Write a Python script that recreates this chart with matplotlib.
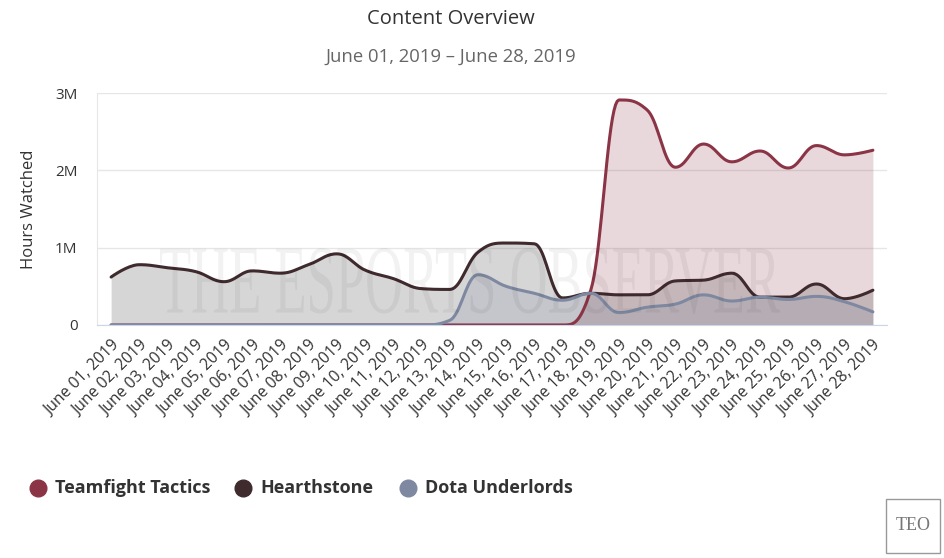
import numpy as np
import matplotlib
matplotlib.use("Agg")
import matplotlib.pyplot as plt
from matplotlib.patches import PathPatch, Rectangle
from matplotlib.lines import Line2D
from matplotlib.textpath import TextPath
from matplotlib.font_manager import FontProperties
import matplotlib.transforms as mtransforms

plt.rcParams['font.family'] = ['Open Sans', 'DejaVu Sans']

# data (hours watched, millions)
days = ["June %02d, 2019" % d for d in range(1, 29)]
tft = [0, 0, 0, 0, 0, 0, 0, 0, 0, 0, 0, 0, 0, 0, 0, 0, 0, 0.45,
       2.91, 2.78, 2.04, 2.34, 2.11, 2.25, 2.03, 2.32, 2.20, 2.26]
hearthstone = [0.62, 0.78, 0.74, 0.69, 0.56, 0.70, 0.67, 0.78, 0.92, 0.71,
               0.60, 0.47, 0.46, 0.94, 1.06, 1.05, 0.35, 0.41, 0.39, 0.39,
               0.57, 0.58, 0.67, 0.36, 0.36, 0.53, 0.34, 0.45]
dota = [0, 0, 0, 0, 0, 0, 0, 0, 0, 0, 0, 0, 0.06, 0.65, 0.50, 0.41,
        0.32, 0.41, 0.16, 0.23, 0.27, 0.39, 0.31, 0.36, 0.33, 0.37, 0.30, 0.17]
series_names = ["Teamfight Tactics", "Hearthstone", "Dota Underlords"]
series_colors = ["#8b3446", "#3f2a2e", "#7e89a1"]
fill_colors = ["#8f3a4c", "#3a3434", "#7e89a1"]


def spline(ys, smoothing=1.5, n=20):
    # highcharts style spline (bezier control points per point)
    xs = np.arange(len(ys), dtype=float)
    ys = np.asarray(ys, dtype=float)
    denom = smoothing + 1
    lc, rc = [], []
    for i in range(len(ys)):
        x, y = xs[i], ys[i]
        if i == 0 or i == len(ys) - 1:
            lc.append((x, y))
            rc.append((x, y))
            continue
        lx, ly = xs[i - 1], ys[i - 1]
        nx, ny = xs[i + 1], ys[i + 1]
        lcx = (smoothing * x + lx) / denom
        lcy = (smoothing * y + ly) / denom
        rcx = (smoothing * x + nx) / denom
        rcy = (smoothing * y + ny) / denom
        corr = (rcy - lcy) * (rcx - x) / (rcx - lcx) + y - rcy
        lcy += corr
        rcy += corr
        if lcy > ly and lcy > y:
            lcy = max(ly, y)
            rcy = 2 * y - lcy
        elif lcy < ly and lcy < y:
            lcy = min(ly, y)
            rcy = 2 * y - lcy
        if rcy > ny and rcy > y:
            rcy = max(ny, y)
            lcy = 2 * y - rcy
        elif rcy < ny and rcy < y:
            rcy = min(ny, y)
            lcy = 2 * y - rcy
        lc.append((lcx, lcy))
        rc.append((rcx, rcy))
    t = np.linspace(0, 1, n)[:, None]
    out = [np.array([[xs[0], ys[0]]])]
    for i in range(1, len(ys)):
        p0 = np.array([xs[i - 1], ys[i - 1]])
        p1 = np.array(rc[i - 1])
        p2 = np.array(lc[i])
        p3 = np.array([xs[i], ys[i]])
        seg = ((1 - t) ** 3) * p0 + 3 * ((1 - t) ** 2) * t * p1 + 3 * (1 - t) * t ** 2 * p2 + t ** 3 * p3
        out.append(seg[1:])
    pts = np.vstack(out)
    return pts[:, 0], pts[:, 1]


fig = plt.figure(figsize=(9.44, 5.58), dpi=100)
ax = fig.add_axes([97 / 944, 1 - 325 / 558, 790 / 944, 232 / 558])

for vals, col, fcol in zip([tft, hearthstone, dota], series_colors, fill_colors):
    sx, sy = spline(vals)
    ax.fill_between(sx, 0, sy, color=fcol, alpha=0.2, linewidth=0)
    ax.plot(sx, sy, color=col, lw=2.2, solid_capstyle='round')

ax.set_xlim(-0.5, len(days) - 0.5)
ax.set_ylim(0, 3)
ax.set_yticks([0, 1, 2, 3])
ax.set_yticklabels(["0", "1M", "2M", "3M"], fontsize=11, color="#333333")
ax.set_xticks(range(len(days)))
ax.set_xticklabels(days, rotation=45, ha='right', va='top', rotation_mode='anchor',
                   fontsize=11.3, color="#333333")
ax.tick_params(axis='both', length=0)
ax.tick_params(axis='y', pad=14)
ax.tick_params(axis='x', pad=9)
ax.grid(axis='y', color="#e6e6e6", lw=1)
ax.set_axisbelow(True)
for s in ['top', 'right']:
    ax.spines[s].set_visible(False)
ax.spines['left'].set_color("#e6e6e6")
ax.spines['bottom'].set_color("#ccd6eb")
ax.set_ylabel("Hours Watched", fontsize=12, color="#333333", labelpad=13)

# watermark
fp = FontProperties(family='Liberation Serif')
tp = TextPath((0, 0), "THE ESPORTS OBSERVER", size=100, prop=fp)
ext = tp.get_extents()
tr = (mtransforms.Affine2D().translate(-ext.x0, -ext.y0)
      .scale(620 / ext.width, 66 / ext.height).translate(160, 558 - 314))
fig.patches.append(PathPatch(tr.transform_path(tp), facecolor="#000000", alpha=0.05,
                             edgecolor='none', transform=None, zorder=5))

fig.text(451 / 944, 1 - 19 / 558, "Content Overview", ha='center', va='center',
         fontsize=14.5, color="#333333")
fig.text(451 / 944, 1 - 57 / 558, "June 01, 2019 \u2013 June 28, 2019", ha='center', va='center',
         fontsize=13.3, color="#666666")

# legend
leg_x = [38, 243, 408]
for lx, name, col in zip(leg_x, series_names, series_colors):
    fig.add_artist(Line2D([lx / 944], [1 - 488 / 558], marker='o', markersize=12,
                          color=col, linestyle='none', transform=fig.transFigure))
    fig.text((lx + 17) / 944, 1 - 488 / 558, name, ha='left', va='center',
             fontsize=13, fontweight='bold', color="#333333")

# logo
fig.patches.append(Rectangle((886 / 944, 1 - 553 / 558), 54 / 944, 54 / 558,
                             transform=fig.transFigure, facecolor='white',
                             edgecolor="#999999", lw=1))
fig.text(913 / 944, 1 - 526 / 558, "TEO", ha='center', va='center',
         family='Liberation Serif', fontsize=13, color="#777777")

fig.savefig("out.png", dpi=100)
